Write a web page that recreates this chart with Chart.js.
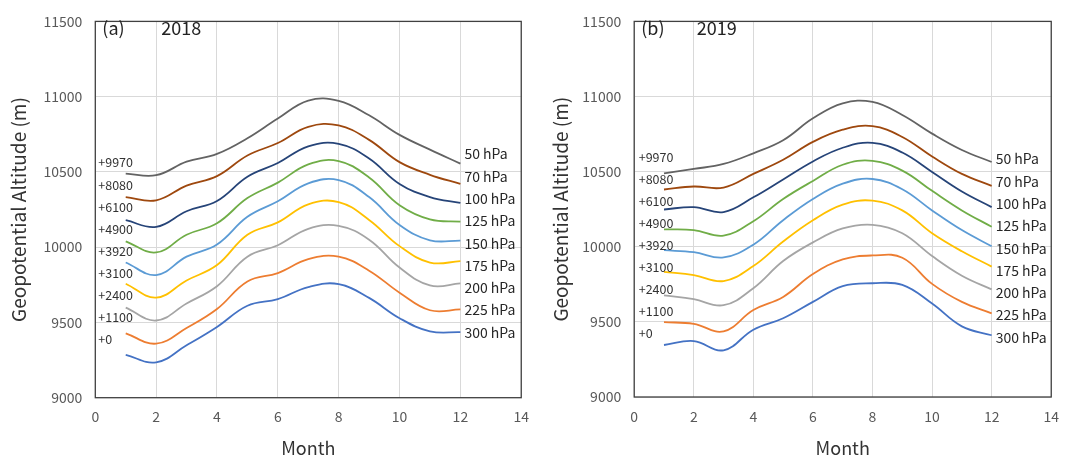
<!DOCTYPE html>
<html>
<head>
<meta charset="utf-8">
<script src="https://cdn.jsdelivr.net/npm/chart.js@4.4.1/dist/chart.umd.min.js"></script>
<style>
  html, body { margin: 0; padding: 0; background: #fff; }
  #wrap { position: relative; width: 1070px; height: 460px; }
  .panel { position: absolute; top: 0; height: 460px; }
</style>
</head>
<body>
<div id="wrap">
  <div class="panel" style="left:0;width:540px"><canvas id="chart2018" width="540" height="460"></canvas></div>
  <div class="panel" style="left:540px;width:530px"><canvas id="chart2019" width="530" height="460"></canvas></div>
</div>
<script>
// months on the x axis
const months = [1, 2, 3, 4, 5, 6, 7, 8, 9, 10, 11, 12];

// pressure levels (bottom to top) and the offset added to each curve
const levels = ["300 hPa", "225 hPa", "200 hPa", "175 hPa", "150 hPa", "125 hPa", "100 hPa", "70 hPa", "50 hPa"];
const offsetLabels = ["+0", "+1100", "+2400", "+3100", "+3920", "+4900", "+6100", "+8080", "+9970"];
const levelColors = ["#4472C4", "#ED7D31", "#A5A5A5", "#FFC000", "#5B9BD5", "#70AD47", "#264478", "#9E480E", "#636363"];

// axis ticks
const yTicks = [9000, 9500, 10000, 10500, 11000, 11500];
const xTicks = [0, 2, 4, 6, 8, 10, 12, 14];

// 2018 (plotted altitude incl. offset, m)
const h300_2018 = [9285, 9235, 9348, 9470, 9611, 9655, 9735, 9755, 9663, 9528, 9441, 9435];
const h225_2018 = [9428, 9359, 9463, 9589, 9772, 9828, 9920, 9937, 9844, 9698, 9581, 9587];
const h200_2018 = [9598, 9513, 9626, 9741, 9937, 10013, 10122, 10142, 10050, 9865, 9746, 9759];
const h175_2018 = [9757, 9665, 9779, 9881, 10083, 10165, 10285, 10300, 10181, 10007, 9898, 9907];
const h150_2018 = [9898, 9815, 9937, 10018, 10202, 10305, 10424, 10446, 10333, 10148, 10046, 10044];
const h125_2018 = [10039, 9965, 10083, 10159, 10326, 10429, 10550, 10572, 10463, 10279, 10185, 10170];
const h100_2018 = [10179, 10135, 10239, 10307, 10468, 10559, 10670, 10687, 10589, 10420, 10333, 10294];
const h70_2018 = [10333, 10311, 10409, 10472, 10609, 10692, 10800, 10809, 10713, 10565, 10481, 10420];
const h50_2018 = [10489, 10478, 10568, 10620, 10724, 10855, 10974, 10972, 10876, 10746, 10648, 10555];

// 2019
const h300_2019 = [9346, 9372, 9311, 9448, 9524, 9633, 9738, 9757, 9746, 9622, 9470, 9411];
const h225_2019 = [9498, 9487, 9437, 9579, 9666, 9818, 9916, 9942, 9927, 9753, 9633, 9557];
const h200_2019 = [9677, 9651, 9611, 9724, 9905, 10029, 10122, 10146, 10090, 9938, 9807, 9716];
const h175_2019 = [9833, 9811, 9772, 9872, 10035, 10177, 10281, 10307, 10242, 10090, 9970, 9868];
const h150_2019 = [9977, 9964, 9929, 10014, 10177, 10318, 10420, 10451, 10383, 10242, 10111, 10003];
const h125_2019 = [10116, 10111, 10074, 10170, 10318, 10438, 10546, 10572, 10507, 10372, 10242, 10133];
const h100_2019 = [10248, 10264, 10231, 10329, 10448, 10568, 10659, 10692, 10627, 10498, 10368, 10264];
const h70_2019 = [10381, 10401, 10394, 10485, 10579, 10698, 10779, 10803, 10731, 10601, 10485, 10405];
const h50_2019 = [10488, 10518, 10551, 10622, 10709, 10855, 10955, 10964, 10877, 10753, 10644, 10564];

const series2018 = [h300_2018, h225_2018, h200_2018, h175_2018, h150_2018, h125_2018, h100_2018, h70_2018, h50_2018];
const series2019 = [h300_2019, h225_2019, h200_2019, h175_2019, h150_2019, h125_2019, h100_2019, h70_2019, h50_2019];

const FONT = "'Noto Sans CJK JP', 'Noto Sans', sans-serif";

function buildDatasets(series) {
    return series.map((vals, i) => ({
        label: levels[i],
        data: months.map((m, j) => ({ x: m, y: vals[j] })),
        borderColor: levelColors[i],
        borderWidth: 1.8,
        pointRadius: 0,
        fill: false,
        tension: 0.4
    }));
}

// draws the box, the panel tag, offsets and level labels
function panelPlugin(cfg) {
    return {
        id: "panelText" + cfg.year,
        afterDraw(chart) {
            const { ctx, chartArea: a, scales } = chart;
            ctx.save();
            ctx.strokeStyle = "#404040";
            ctx.lineWidth = 1.3;
            ctx.strokeRect(a.left, a.top, a.right - a.left, a.bottom - a.top);

            ctx.fillStyle = "#222";
            ctx.textBaseline = "middle";
            ctx.textAlign = "left";
            ctx.font = "18px " + FONT;
            ctx.fillText(cfg.tag, a.left + 7, 28);
            ctx.fillText(String(cfg.year), a.left + cfg.yearDx, 28);

            ctx.font = "12.5px " + FONT;
            ctx.fillStyle = "#333";
            for (let i = 0; i < offsetLabels.length; i++) {
                const y = cfg.offTop + (offsetLabels.length - 1 - i) * 22.05;
                ctx.fillText(offsetLabels[i], a.left + cfg.offDx, y);
            }

            ctx.font = "14px " + FONT;
            ctx.fillStyle = "#262626";
            const xr = scales.x.getPixelForValue(12) + 4;
            for (let i = 0; i < levels.length; i++) {
                const y = cfg.lvlTop + (levels.length - 1 - i) * 22.3;
                ctx.fillText(levels[i], xr, y);
            }
            ctx.restore();
        }
    };
}

function makeChart(id, series, cfg) {
    const ctx = document.getElementById(id).getContext("2d");
    return new Chart(ctx, {
        type: "line",
        data: { datasets: buildDatasets(series) },
        options: {
            responsive: false,
            animation: false,
            layout: { padding: { left: 0, right: cfg.padRight, top: cfg.padTop, bottom: 0 } },
            plugins: { legend: { display: false }, tooltip: { enabled: false } },
            scales: {
                x: {
                    type: "linear",
                    min: 0,
                    max: 14,
                    afterBuildTicks: s => { s.ticks = xTicks.map(v => ({ value: v })); },
                    grid: { color: "#D9D9D9", lineWidth: 1, drawTicks: false },
                    border: { display: false },
                    ticks: { color: "#595959", font: { family: FONT, size: 14 }, padding: 11, callback: v => String(v) },
                    title: { display: true, text: "Month", color: "#333", font: { family: FONT, size: 18 }, padding: { top: 0, bottom: 1 } },
                    afterFit: s => { s.height = cfg.xHeight; }
                },
                y: {
                    min: 9000,
                    max: 11500,
                    afterBuildTicks: s => { s.ticks = yTicks.map(v => ({ value: v })); },
                    grid: { color: "#D9D9D9", lineWidth: 1, drawTicks: false },
                    border: { display: false },
                    ticks: { color: "#595959", font: { family: FONT, size: 14 }, padding: 13, callback: v => String(v) },
                    title: { display: true, text: "Geopotential Altitude (m)", color: "#333", font: { family: FONT, size: 19 }, padding: { top: cfg.yTitlePad, bottom: 0 } },
                    afterFit: s => { s.width = cfg.yWidth; }
                }
            }
        },
        plugins: [panelPlugin(cfg)]
    });
}

makeChart("chart2018", series2018, {
    year: 2018, tag: "(a)", yearDx: 66, offDx: 3, offTop: 162.7, lvlTop: 154,
    padRight: 17.7, padTop: 14.3, xHeight: 62.3, yWidth: 95.3, yTitlePad: 7.5
});
makeChart("chart2019", series2019, {
    year: 2019, tag: "(b)", yearDx: 62.5, offDx: 4.5, offTop: 157.3, lvlTop: 159,
    padRight: 7.4, padTop: 13.5, xHeight: 63, yWidth: 94.2, yTitlePad: 9
});
</script>
</body>
</html>
